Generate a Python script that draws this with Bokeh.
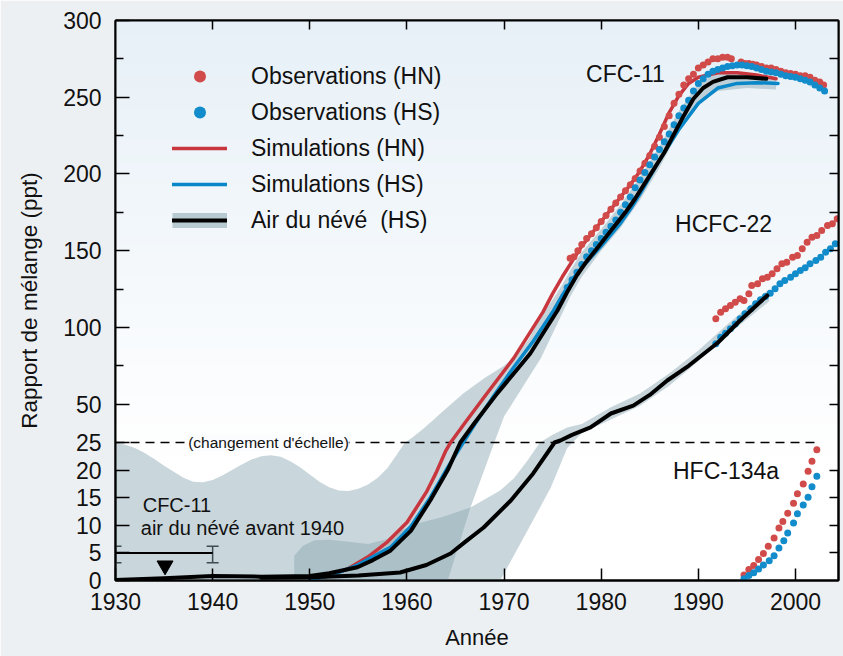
import numpy as np
from bokeh.plotting import figure
from bokeh.models import (LinearAxis, FixedTicker, Range1d, Label, Legend, LegendItem,
                          Whisker, TeeHead, ColumnDataSource, CustomJSTickFormatter)
from bokeh.embed import file_html
from bokeh.resources import INLINE

# ---------------- data (ppt) ----------------
# CFC-11 firn air (HS)
cfc11_firn_year = [1930, 1935, 1940, 1945, 1950, 1952, 1954.9, 1956.5, 1958.3, 1960.4, 1962.4, 1964.2,
                   1965.5, 1967, 1969.3, 1971, 1972.7, 1974, 1975.5, 1976.5, 1977.5, 1978.5, 1979.5,
                   1980.5, 1981.5, 1982.5, 1983.5, 1984.5, 1985.5, 1986.5, 1987.5, 1988.5, 1989.5,
                   1990.5, 1991.5, 1993, 1995, 1997]
cfc11_firn_val = [0.1, 0.4, 0.8, 0.7, 0.8, 1.3, 2.4, 3.7, 5.4, 9, 14.5, 20,
                  25, 38, 57, 70, 83, 96, 111, 123, 134, 143, 151,
                  159, 167, 175, 184, 194, 204, 214, 226, 238, 249,
                  256, 260, 263, 263, 262]

# CFC-11 simulations
cfc11_sim_hn_year = [1950, 1952, 1954, 1956, 1958, 1960, 1962, 1963, 1964, 1964.5, 1966, 1968, 1971, 1974,
                     1975, 1976, 1977, 1978, 1979, 1980, 1981, 1982, 1983, 1984, 1985, 1986, 1987, 1988,
                     1989, 1990, 1992, 1994, 1996, 1998]
cfc11_sim_hn_val = [0.2, 0.8, 2.2, 4.3, 7, 10.5, 16, 19.5, 23.5, 25, 38, 55, 80, 110,
                    122, 133, 143, 153, 161, 169, 177, 185, 193, 202, 213, 226, 240, 251,
                    259, 263, 266, 266, 264.5, 262]
cfc11_sim_hs_year = [1950, 1952, 1954.9, 1958.3, 1960.4, 1962.4, 1964.2, 1965.8, 1967, 1969, 1971, 1973,
                     1975, 1976, 1977, 1978, 1979, 1980, 1982, 1983, 1984, 1985, 1986, 1987, 1988, 1990,
                     1992, 1994, 1996, 1998.2]
cfc11_sim_hs_val = [0.2, 0.8, 2.8, 6, 9.8, 15, 20.5, 25, 37, 56, 74, 91,
                    110, 121, 131, 139, 146, 153, 168, 177, 187, 198, 209, 219, 229, 246,
                    256, 259, 259.5, 259]

# CFC-11 observations
cfc11_obs_hn_year = [1976.8, 1977.2, 1977.6, 1978.0, 1978.5, 1979.0, 1979.5, 1980.0, 1980.5, 1981.0,
                     1981.5, 1982.0, 1982.5, 1983.0, 1983.5, 1984.0, 1984.5, 1985.0, 1985.5, 1986.0,
                     1986.5, 1987.0, 1987.5, 1988.0, 1988.5, 1989.0, 1989.5, 1990.0, 1990.5, 1991.0,
                     1991.5, 1992.0, 1992.5, 1993.0, 1993.4, 1994.4, 1994.8, 1995.2, 1995.6, 1996.0,
                     1996.5, 1997.0, 1997.5, 1998.0, 1998.5, 1999.0, 1999.5, 2000.0, 2000.5, 2001.0,
                     2001.5, 2002.0, 2002.5, 2002.9]
cfc11_obs_hn_val = [145, 146, 150, 154, 158, 161, 165, 169, 173, 177,
                    181, 185, 189, 193, 197, 202, 207, 212, 218, 224,
                    231, 238, 246, 252, 258, 262, 265, 269, 271, 273,
                    275, 275, 276, 276, 275, 273, 272, 272, 271.5, 271,
                    270, 269, 269, 268, 267, 266, 265.5, 265, 264, 264,
                    263, 261, 260, 258]
cfc11_obs_hs_year = [1976.5, 1977.0, 1977.5, 1978.0, 1978.5, 1979.0, 1979.5, 1980.0, 1980.5, 1981.0,
                     1981.5, 1982.0, 1982.5, 1983.0, 1983.5, 1984.0, 1984.5, 1985.0, 1985.5, 1986.0,
                     1986.5, 1987.0, 1987.5, 1988.0, 1988.5, 1989.0, 1989.5, 1990.0, 1990.5, 1991.0,
                     1991.5, 1992.0, 1992.5, 1993.0, 1993.5, 1994.0, 1994.5, 1995.0, 1995.5, 1996.0,
                     1996.5, 1997.0, 1997.5, 1998.0, 1998.5, 1999.0, 1999.5, 2000.0, 2000.5, 2001.0,
                     2001.5, 2002.0, 2002.5, 2003.0]
cfc11_obs_hs_val = [126, 131, 136, 141, 146, 150, 154, 158, 162, 166,
                    170, 175, 180, 185, 191, 196, 201, 206, 211, 216,
                    221, 226, 232, 238, 243, 248, 254, 259, 262, 265,
                    267, 268, 269, 270, 270.5, 271, 271, 270.5, 270, 269,
                    268, 267, 266.5, 266, 265, 264, 263.5, 263, 262, 261,
                    260, 258, 256, 254]

# CFC-11 firn uncertainty envelope
cfc11_band_up_year = [1930, 1931, 1932, 1933, 1934, 1935, 1936, 1937, 1938, 1939, 1940, 1941, 1942,
                      1943, 1944, 1945, 1946, 1947, 1948, 1949, 1950, 1951, 1952, 1953, 1954, 1955,
                      1956, 1957, 1958, 1959, 1959.8, 1960.5, 1961.5, 1962.6, 1964, 1965.8, 1968,
                      1970, 1971, 1972.5, 1973.7, 1975, 1976, 1977, 1978, 1980, 1982, 1984, 1986,
                      1988, 1990, 1992, 1995, 1998]
cfc11_band_up_val = [24.9, 24.6, 24.0, 23.1, 22.0, 20.8, 19.7, 18.6, 17.9, 17.8, 18.2, 19.0, 20.0,
                     21.0, 21.9, 22.5, 22.7, 22.4, 21.6, 20.5, 19.2, 17.9, 16.9, 16.3, 16.2, 16.6,
                     17.4, 18.6, 20.4, 22.9, 25, 28, 33, 39, 47, 57, 67,
                     75, 80, 92, 106, 118, 128, 139, 149, 164, 180, 198, 218,
                     241, 259, 266, 266, 263]
cfc11_band_lo_year = [1998, 1995, 1992, 1990, 1988, 1986, 1984, 1982, 1980, 1978, 1976.8, 1975,
                      1973.8, 1972, 1970, 1969, 1966.5, 1964.2, 1930]
cfc11_band_lo_val = [255, 256, 254, 246, 228, 204, 183, 165, 150, 133, 120, 96,
                     80, 62, 42, 25, 13, 0, 0]

# HCFC-22 firn air (HS) and envelope
hcfc22_firn_year = [1945, 1950, 1955, 1959.3, 1962, 1964.5, 1966, 1967.9, 1970.7, 1973, 1975.2, 1975.8,
                    1977, 1978.9, 1981, 1983.3, 1985, 1986.8, 1989, 1992, 1994.3, 1997.1]
hcfc22_firn_val = [0.5, 0.6, 0.9, 1.45, 2.8, 4.9, 7, 9.6, 14.5, 19.4, 25, 26.3,
                   30, 34.8, 43.9, 49, 56, 65.4, 75, 90, 104.5, 120.8]
hcfc22_band_up_year = [1948.4, 1948.4, 1949.3, 1950.5, 1952, 1954, 1956, 1958, 1959.3, 1961, 1963.5,
                       1966.5, 1969.6, 1971, 1972.4, 1973.7, 1975, 1976.5, 1978, 1981, 1984, 1987,
                       1990, 1993, 1997.3]
hcfc22_band_up_val = [0, 4.5, 6.3, 7.3, 7.4, 7.0, 6.6, 7.5, 9, 10.3, 11.4,
                      13.2, 16.3, 18.5, 21.7, 25, 30, 34.8, 37, 48, 57, 70,
                      85, 102, 125]
hcfc22_band_lo_year = [1997.3, 1993, 1990, 1987, 1984, 1981, 1978, 1976.5, 1974.8, 1972.4, 1969.6]
hcfc22_band_lo_val = [117, 95, 78, 62, 49, 40, 31, 24, 16.8, 9, 0]

# HCFC-22 observations
hcfc22_obs_hn_year = [1991.8, 1992.3, 1992.8, 1993.3, 1993.8, 1994.3, 1994.7, 1995.2, 1995.5, 1996.1,
                      1996.6, 1997.1, 1997.6, 1998.1, 1998.6, 1999.1, 1999.7, 2000.2, 2000.7, 2001.2,
                      2001.7, 2002.2, 2002.7, 2003.3, 2003.8, 2004.3]
hcfc22_obs_hn_val = [105.6, 109.9, 112.1, 114.3, 116.4, 118.6, 117.5, 121.9, 127.3, 128.4,
                     131.7, 132.7, 134.9, 138.2, 141.5, 142.5, 145.8, 146.9, 151.2, 155.5,
                     158.8, 159.9, 163.2, 166.4, 167.5, 170.8]
hcfc22_obs_hs_year = [1991.8, 1992.3, 1992.8, 1993.3, 1993.8, 1994.3, 1994.8, 1995.4, 1995.9, 1996.4,
                      1996.9, 1997.4, 1997.9, 1998.4, 1998.9, 1999.5, 2000.0, 2000.5, 2001.0, 2001.5,
                      2002.1, 2002.6, 2003.1, 2003.6, 2004.1]
hcfc22_obs_hs_val = [89.3, 93.6, 96.2, 99.1, 102.3, 105.6, 108.9, 112.1, 115.4, 118,
                     120.1, 122.3, 125.2, 128.4, 130.6, 132.7, 134.9, 137.1, 138.8, 141.5,
                     143.6, 145.8, 149, 151.2, 154.5]

# HFC-134a observations
hfc134a_obs_hn_year = [1994.7, 1995.2, 1995.7, 1996.2, 1996.7, 1997.2, 1997.8, 1998.3, 1998.7, 1999.2,
                       1999.8, 2000.2, 2000.8, 2001.3, 2001.7, 2002.2]
hfc134a_obs_hn_val = [1.0, 2.0, 2.7, 3.8, 4.9, 6.2, 7.7, 9.5, 10.7, 12.2,
                      14.0, 15.7, 17.5, 19.8, 21.6, 23.7]
hfc134a_obs_hs_year = [1994.7, 1995.2, 1995.7, 1996.2, 1996.7, 1997.3, 1997.8, 1998.3, 1998.8, 1999.2,
                       1999.8, 2000.2, 2000.8, 2001.3, 2001.7, 2002.2]
hfc134a_obs_hs_val = [0.3, 0.9, 1.4, 2.1, 2.8, 3.6, 4.5, 5.9, 7.2, 8.6,
                      10.4, 12.1, 13.7, 15.1, 17.0, 18.9]

# CFC-11 firn air before 1940 (upper limit with error bar)
prior_year = [1930, 1940]
prior_level = [5, 5]
prior_low = [3.2, 3.2]
prior_high = [6.2, 6.2]
prior_arrow_year = [1935.1]
prior_arrow_val = [2.7]

# axis ticks
y_major = [0, 5, 10, 15, 20, 25, 50, 100, 150, 200, 250, 300]
y_minor = [75, 125, 175, 225, 275]
y_right = [5, 10, 15, 20, 50, 75, 100, 125, 150, 175, 200, 225, 250, 275]
x_major = [1930, 1940, 1950, 1960, 1970, 1980, 1990, 2000]
x_top = [1940, 1950, 1960, 1970, 1980, 1990, 2000]
scale_break = 25.0
break_line_year = [1930, 2002.4]

# ---------------- broken y scale ----------------
K = (422.0 / 275.0) / (138.0 / 25.0)   # upper-part compression


def ty(v):
    v = np.asarray(v, dtype=float)
    return np.where(v <= scale_break, v, scale_break + (v - scale_break) * K)


FONT = "Liberation Sans"
RED = "#c8363e"
BLUE = "#0a87c8"
RED_DOT = "#d24b4b"
BLUE_DOT = "#138ccb"
BAND = "#8aa6b1"
BAND_ALPHA = 0.46
X_END = 2004.43

p = figure(width=843, height=656, x_range=Range1d(1930, X_END), y_range=Range1d(0, float(ty(300))),
           output_backend="svg", toolbar_location=None,
           min_border_left=115, min_border_top=20, min_border_right=5, min_border_bottom=76,
           background_fill_color="white", border_fill_color="#edf0f3")
p.xgrid.visible = False
p.ygrid.visible = False
p.outline_line_color = "black"
p.outline_line_width = 2

# background gradient (pale blue at top -> white)
n = 60
edges = np.linspace(float(ty(300)), 20.0, n + 1)
top_rgb = np.array([231, 240, 247])
cols = []
for i in range(n):
    t = i / (n - 1)
    c = top_rgb + (np.array([255, 255, 255]) - top_rgb) * t
    cols.append("#%02x%02x%02x" % tuple(int(round(x)) for x in c))
p.quad(left=1930, right=X_END, top=edges[:-1], bottom=edges[1:], fill_color=cols, line_color=cols,
       line_width=1)

# envelopes
p.patch(cfc11_band_up_year + cfc11_band_lo_year, ty(cfc11_band_up_val + cfc11_band_lo_val),
        fill_color=BAND, fill_alpha=BAND_ALPHA, line_color=None)
p.patch(hcfc22_band_up_year + hcfc22_band_lo_year, ty(hcfc22_band_up_val + hcfc22_band_lo_val),
        fill_color=BAND, fill_alpha=BAND_ALPHA, line_color=None)

# break line
p.line(break_line_year, ty([scale_break, scale_break]), line_color="black", line_width=1.3, line_dash="9 6")

# simulations
r_sim_hn = p.line(cfc11_sim_hn_year, ty(cfc11_sim_hn_val), line_color=RED, line_width=3.5,
                  line_join="round", line_cap="round")
r_sim_hs = p.line(cfc11_sim_hs_year, ty(cfc11_sim_hs_val), line_color=BLUE, line_width=3.5,
                  line_join="round", line_cap="round")

# observations
r_obs_hn = p.scatter(cfc11_obs_hn_year, ty(cfc11_obs_hn_val), size=7, fill_color=RED_DOT, line_color=None)
r_obs_hs = p.scatter(cfc11_obs_hs_year, ty(cfc11_obs_hs_val), size=7, fill_color=BLUE_DOT, line_color=None)
p.scatter(hcfc22_obs_hn_year, ty(hcfc22_obs_hn_val), size=7, fill_color=RED_DOT, line_color=None)
p.scatter(hcfc22_obs_hs_year, ty(hcfc22_obs_hs_val), size=7, fill_color=BLUE_DOT, line_color=None)
p.scatter(hfc134a_obs_hn_year, ty(hfc134a_obs_hn_val), size=7, fill_color=RED_DOT, line_color=None)
p.scatter(hfc134a_obs_hs_year, ty(hfc134a_obs_hs_val), size=7, fill_color=BLUE_DOT, line_color=None)

# firn air
r_firn = p.line(cfc11_firn_year, ty(cfc11_firn_val), line_color="black", line_width=4,
                line_join="round", line_cap="round")
p.line(hcfc22_firn_year, ty(hcfc22_firn_val), line_color="black", line_width=4,
       line_join="round", line_cap="round")

# pre-1940 upper limit
p.line(prior_year, ty(prior_level), line_color="black", line_width=2)
wsrc = ColumnDataSource(dict(base=prior_year, lower=ty(prior_low), upper=ty(prior_high)))
p.add_layout(Whisker(source=wsrc, base="base", lower="lower", upper="upper", line_width=1.5,
                     upper_head=TeeHead(size=12, line_width=1.5), lower_head=TeeHead(size=12, line_width=1.5)))
p.scatter(prior_arrow_year, ty(prior_arrow_val), marker="inverted_triangle", size=16,
          fill_color="black", line_color="black")

# legend swatch for the envelope
r_leg_band = p.line([np.nan], [np.nan], line_color=BAND, line_alpha=BAND_ALPHA + 0.1, line_width=15)

legend = Legend(items=[
    LegendItem(label="Observations (HN)", renderers=[r_obs_hn]),
    LegendItem(label="Observations (HS)", renderers=[r_obs_hs]),
    LegendItem(label="Simulations (HN)", renderers=[r_sim_hn]),
    LegendItem(label="Simulations (HS)", renderers=[r_sim_hs]),
    LegendItem(label="Air du névé  (HS)", renderers=[r_leg_band, r_firn]),
], location=(57, 345), orientation="vertical", glyph_width=55, glyph_height=30, label_height=30,
    spacing=6, padding=0, margin=0, label_standoff=24, border_line_alpha=0, background_fill_alpha=0,
    label_text_font_size="23px", label_text_font=FONT, label_text_color="#111111")
p.add_layout(legend)


# annotations
def add_label(x, yv, text, size="23px", align="center", **kw):
    p.add_layout(Label(x=x, y=float(ty(yv)), text=text, text_font=FONT, text_font_size=size,
                       text_align=align, text_baseline="middle", text_color="#111111", **kw))


add_label(1982.5, 265.1, "CFC-11")
add_label(1992.6, 167.4, "HCFC-22")
add_label(1992.85, 19.9, "HFC-134a")
add_label(1932.8, 13.6, "CFC-11", size="20px", align="left")
add_label(1932.6, 9.6, "air du névé avant 1940", size="20px", align="left")
add_label(1945.75, 25, "(changement d'échelle)", size="15.5px",
          background_fill_color="#fbfcfd", background_fill_alpha=1.0)

# axes
yax = p.yaxis[0]
yax.ticker = FixedTicker(ticks=[float(v) for v in ty(y_major)], minor_ticks=[float(v) for v in ty(y_minor)])
yax.formatter = CustomJSTickFormatter(args=dict(b=scale_break, k=K),
                                      code="var v = tick <= b + 1e-6 ? tick : b + (tick - b) / k; return String(Math.round(v));")
yax.major_tick_in = 14
yax.major_tick_out = 0
yax.minor_tick_in = 8
yax.minor_tick_out = 0
yax.axis_line_width = 2
yax.major_tick_line_width = 1.5
yax.minor_tick_line_width = 1.5
yax.major_label_text_font = FONT
yax.major_label_text_font_size = "23px"
yax.major_label_text_color = "#111111"
yax.major_label_standoff = 14
yax.axis_label = "Rapport de mélange (ppt)"
yax.axis_label_text_font = FONT
yax.axis_label_text_font_size = "22.5px"
yax.axis_label_text_font_style = "normal"
yax.axis_label_text_color = "#111111"
yax.axis_label_standoff = 18

xax = p.xaxis[0]
xax.ticker = FixedTicker(ticks=x_major)
xax.major_tick_in = 12
xax.major_tick_out = 0
xax.minor_tick_in = 0
xax.minor_tick_out = 0
xax.axis_line_width = 2
xax.major_tick_line_width = 1.5
xax.major_label_text_font = FONT
xax.major_label_text_font_size = "23px"
xax.major_label_text_color = "#111111"
xax.major_label_standoff = 12
xax.axis_label = "Année"
xax.axis_label_text_font = FONT
xax.axis_label_text_font_size = "22px"
xax.axis_label_text_font_style = "normal"
xax.axis_label_text_color = "#111111"
xax.axis_label_standoff = 12

blank = CustomJSTickFormatter(code="return '';")
rax = LinearAxis(ticker=FixedTicker(ticks=[float(v) for v in ty(y_right)]), major_tick_in=9, major_tick_out=0,
                 minor_tick_in=0, minor_tick_out=0, formatter=blank, major_label_text_font_size="1px",
                 major_label_standoff=0, axis_line_width=2, major_tick_line_width=1.5)
p.add_layout(rax, "right")
tax = LinearAxis(ticker=FixedTicker(ticks=x_top), major_tick_in=9, major_tick_out=0,
                 minor_tick_in=0, minor_tick_out=0, formatter=blank, major_label_text_font_size="1px",
                 major_label_standoff=0, axis_line_width=2, major_tick_line_width=1.5)
p.add_layout(tax, "above")

open("out.html", "w").write(file_html(p, INLINE))
